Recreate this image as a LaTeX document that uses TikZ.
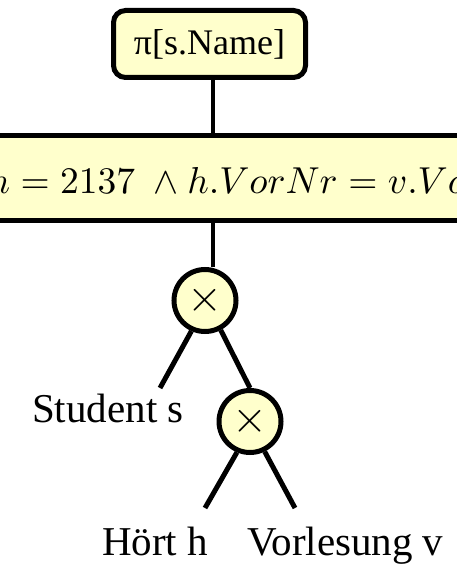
\documentclass[tikz,border=0pt]{standalone}
\usepackage{amsmath, amssymb}
\usepackage{graphicx}
\usepackage{fontspec}
\setmainfont{Liberation Serif}
\definecolor{boxfill}{RGB}{255,255,204}

\begin{document}
\begin{tikzpicture}[x=1pt, y=-1pt,
    opbox/.style={draw, line width=5pt, fill=boxfill, rounded corners=12pt,
        minimum width=192pt, minimum height=67pt, inner sep=0pt,
        font=\fontsize{36}{40}\selectfont},
    selbox/.style={draw, line width=5pt, fill=boxfill,
        minimum width=520pt, minimum height=84.5pt, inner sep=0pt},
    joinop/.style={circle, draw, line width=5pt, fill=boxfill,
        minimum size=62pt, inner sep=0pt},
    rel/.style={inner sep=0pt, anchor=base west, font=\fontsize{41}{44}\selectfont},
    edge/.style={line width=5pt},
    spine/.style={line width=4.5pt}]
    % Fixed Bounding Box for alignment
    \useasboundingbox (0,0) rectangle (457,567);
    \clip (0,0) rectangle (457,567);

    % Operators
    \node[opbox] (proj) at (209.5,44) {π[s.Name]};
    \node[selbox] (sel) at (228.5,177.75) {};
    \node[inner sep=0pt, anchor=base west]
        (cond) at (-12.5,193) {\scalebox{3.75}{$n = 2137 \;\wedge h.VorNr = v.Vo$}};
    \node[joinop] (x1) at (205,300.5) {\scalebox{4.5}{$\times$}};
    \node[joinop] (x2) at (250,421.5) {\scalebox{4.5}{$\times$}};

    % Relations
    \node[rel] (stud) at (32,422) {Student s};
    \node[rel] (hoert) at (102,555) {Hört h};
    \node[rel] (vorl) at (247,555) {Vorlesung v};
    \coordinate (spinex) at (213,0);
    \coordinate (studend) at (160,388);
    \coordinate (hoertend) at (205,508);
    \coordinate (vorlend) at (295,508);

    % Edges
    \draw[spine] (proj.south -| spinex) -- (sel.north -| spinex);
    \draw[spine] (sel.south -| spinex) -- (x1.north -| spinex);
    \draw[edge] (x1.-114) -- (studend);
    \draw[edge] (x1.-62) -- (x2.north);
    \draw[edge] (x2.-113) -- (hoertend);
    \draw[edge] (x2.-64) -- (vorlend);
\end{tikzpicture}
\end{document}
